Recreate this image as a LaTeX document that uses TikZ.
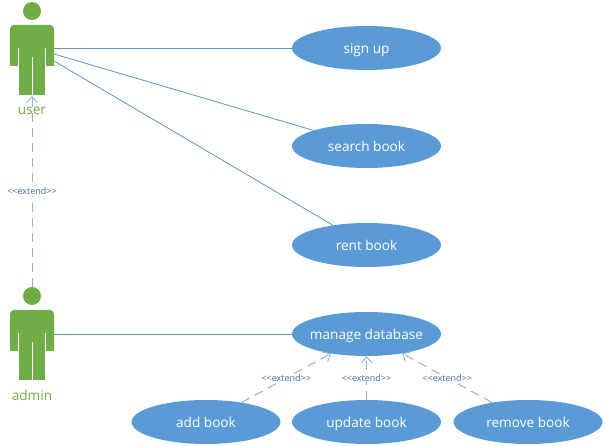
\documentclass[tikz,border=0pt]{standalone}
\usepackage{fontspec}
\setmainfont{Open Sans}
\usetikzlibrary{shapes.geometric,arrows.meta}
\definecolor{ublue}{HTML}{5B9BD5}
\definecolor{ugreen}{HTML}{70AD47}
\definecolor{uline}{HTML}{5F93C8}
\definecolor{udash}{HTML}{8FB2D4}
\definecolor{ulabel}{HTML}{41719C}
\newcommand{\extname}{{<}{<}extend{>}{>}}
\newcommand{\uctext}[1]{\makebox[0pt]{\raisebox{-5.3pt}[0pt][0pt]{#1}}}
\tikzset{
  x=1pt,y=-1pt,
  usecase/.style={ellipse,fill=ublue,draw=none,text=white,inner sep=0pt,minimum width=149pt,minimum height=44pt,font=\fontsize{13.6}{15}\selectfont},
  actorname/.style={text=ugreen,inner sep=0pt,font=\fontsize{13.6}{15}\selectfont},
  assoc/.style={draw=uline,line width=0.8pt},
  extends/.style={draw=udash,line width=1pt,dash pattern=on 9pt off 6pt,-{Straight Barb[length=6pt,width=11pt,line width=0.9pt]}},
  extlabel/.style={text=ulabel,fill=white,inner sep=1pt,font=\fontsize{9}{10}\selectfont},
  pics/stick/.style={code={
    \fill[ugreen] (32,11) circle[radius=9];
    \fill[ugreen] (10,66) -- (10,29) .. controls (10,26.8) and (11.8,25) .. (14,25) -- (50,25) .. controls (52.2,25) and (54,26.8) .. (54,29) -- (54,66) -- cycle;
    \fill[ugreen] (19,60) rectangle (45,95);
    \draw[white,line width=0.9pt] (18.5,48) -- (18.5,66.5);
    \draw[white,line width=0.9pt] (45.5,48) -- (45.5,66.5);
    \draw[white,line width=0.9pt] (32,57) -- (32,95.5);
  }}
}
\begin{document}
\begin{tikzpicture}
\useasboundingbox (0,0) rectangle (605,446);
\fill[white] (0,0) rectangle (605,446);
\pic at (0,0) {stick};
\pic at (0,285) {stick};
\node[usecase] (signup) at (366.5,48) {\uctext{sign up}};
\node[usecase] (search) at (366.5,146) {\uctext{search book}};
\node[usecase] (rent) at (366.5,245) {\uctext{rent book}};
\node[usecase] (manage) at (366.5,334) {\uctext{manage database}};
\node[usecase] (add) at (206,422) {\uctext{add book}};
\node[usecase] (update) at (366.5,422) {\uctext{update book}};
\node[usecase] (remove) at (528,422) {\uctext{remove book}};
\coordinate (u1) at (54,48);
\coordinate (u2) at (54,54);
\coordinate (u3) at (54,61);
\coordinate (a1) at (54,334);
\coordinate (adminhead) at (32,287);
\coordinate (userfoot) at (32,96);
\draw[assoc] (u1) -- (signup);
\draw[assoc] (u2) -- (search);
\draw[assoc] (u3) -- (rent);
\draw[assoc] (a1) -- (manage);
\draw[extends] (adminhead) -- node[extlabel,pos=0.5] {\extname} (userfoot);
\draw[extends] (add) -- node[extlabel,pos=0.5] {\extname} (manage);
\draw[extends] (update) -- node[extlabel,pos=0.5] {\extname} (manage);
\draw[extends] (remove) -- node[extlabel,pos=0.5] {\extname} (manage);
\node[actorname] (user) at (32,110.5) {user};
\node[actorname] (admin) at (32,395.5) {admin};
\end{tikzpicture}
\end{document}
